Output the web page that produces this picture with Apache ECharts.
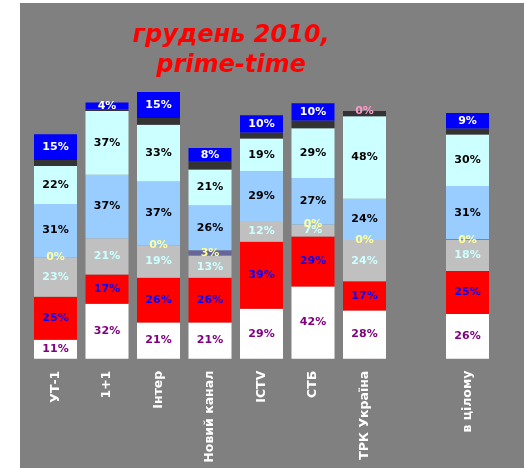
<!DOCTYPE html>
<html>
<head>
<meta charset="utf-8">
<script src="https://cdn.jsdelivr.net/npm/echarts@6/dist/echarts.min.js"></script>
<style>
html,body{margin:0;padding:0;background:#fff;width:524px;height:468px;overflow:hidden;}
#chart{position:absolute;left:20px;top:3px;width:504px;height:465px;background:#808080;}
</style>
</head>
<body>
<div id="chart"></div>
<script>
const categories = ['УТ-1', '1+1', 'Інтер', 'Новий канал', 'ICTV', 'СТБ', 'ТРК Україна', '', 'в цілому'];
const whiteVals     = [11, 32, 21, 21, 29, 42, 28, null, 26];
const redVals       = [25, 17, 26, 26, 39, 29, 17, null, 25];
const grayVals      = [23, 21, 19, 13, 12, 7, 24, null, 18];
const slateVals     = [0, null, 0, 3, null, 0, 0, null, 0.4];
const lightBlueVals = [31, 37, 37, 26, 29, 27, 24, null, 31];
const cyanVals      = [22, 37, 33, 21, 19, 29, 48, null, 30];
const darkVals      = [3.5, 1, 4, 4.5, 3.5, 4.5, 3, null, 3.5];
const blueVals      = [15, 4, 15, 8, 10, 10, 0, null, 9];

const FONT = 'DejaVu Sans';
function pct(p) { return p.value == null ? '' : Math.round(p.value) + '%'; }

function mk(name, data, color, labelColor, showLabel) {
  return {
    name: name,
    type: 'bar',
    stack: 'total',
    barWidth: 43,
    data: data.map(function (v) {
      if (v === 0 && name === 'blue') {
        return { value: v, label: { color: '#FF99CC' } };
      }
      return v;
    }),
    itemStyle: { color: color },
    label: {
      show: showLabel,
      position: 'inside',
      formatter: pct,
      color: labelColor,
      fontFamily: FONT,
      fontWeight: 'bold',
      fontSize: 11
    },
    emphasis: { disabled: true }
  };
}

const chart = echarts.init(document.getElementById('chart'));
chart.setOption({
  backgroundColor: '#808080',
  animation: false,
  title: {
    text: 'грудень 2010,\nprime-time',
    left: 206,
    top: 13,
    textAlign: 'center',
    textStyle: {
      color: '#FF0000',
      fontFamily: FONT,
      fontStyle: 'italic',
      fontWeight: 'bold',
      fontSize: 24,
      lineHeight: 30
    }
  },
  grid: { left: 9.75, right: 30.75, top: 80.5, bottom: 109.3 },
  xAxis: {
    type: 'category',
    data: categories,
    axisLine: { show: false },
    axisTick: { show: false },
    axisLabel: {
      rotate: 90,
      margin: 12,
      color: '#FFFFFF',
      fontFamily: FONT,
      fontWeight: 'bold',
      fontSize: 12.5,
      interval: 0
    }
  },
  yAxis: {
    type: 'value',
    min: 0,
    max: 160,
    show: false,
    splitLine: { show: false }
  },
  series: [
    mk('white', whiteVals, '#FFFFFF', '#800080', true),
    mk('red', redVals, '#FF0000', '#0000FF', true),
    mk('gray', grayVals, '#C0C0C0', '#CCFFFF', true),
    mk('slate', slateVals, '#666699', '#FFFF99', true),
    mk('lightblue', lightBlueVals, '#99CCFF', '#000000', true),
    mk('cyan', cyanVals, '#CCFFFF', '#000000', true),
    mk('dark', darkVals, '#333333', '#333333', false),
    mk('blue', blueVals, '#0000FF', '#FFFFFF', true)
  ]
});
</script>
</body>
</html>
